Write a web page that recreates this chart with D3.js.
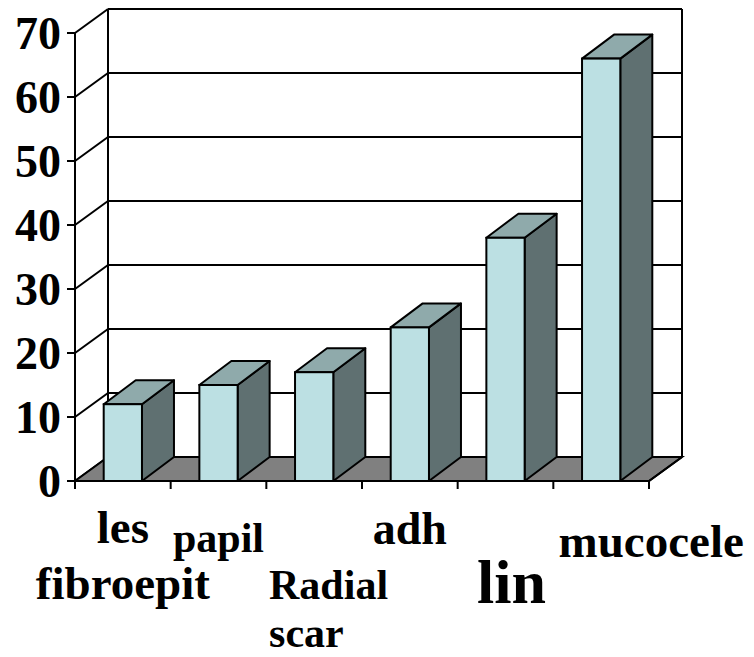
<!DOCTYPE html>
<html>
<head>
<meta charset="utf-8">
<script src="https://cdn.jsdelivr.net/npm/d3@7"></script>
<style>
  html, body { margin: 0; padding: 0; background: #fff; }
  svg { display: block; }
  text { font-family: "Liberation Serif", "Times New Roman", serif; font-weight: bold; fill: #000; }
</style>
</head>
<body>
<script>
// Lesion categories and counts
const categories = ["les fibroepit", "papil", "Radial scar", "adh", "lin", "mucocele"];
const values = [12, 15, 17, 24, 38, 66];
const yTicks = [0, 10, 20, 30, 40, 50, 60, 70];

// Category label lines, each line with its own size and placement offset
const labelLines = [
  [{ t: "les", size: 47, dx: 0, y: 543, anchor: "middle" },
   { t: "fibroepit", size: 47, dx: 0, y: 599, anchor: "middle" }],
  [{ t: "papil", size: 42, dx: 0, y: 552, anchor: "middle" }],
  [{ t: "Radial", size: 42, dx: -26, y: 599, anchor: "start" },
   { t: "scar", size: 42, dx: -26, y: 647, anchor: "start" }],
  [{ t: "adh", size: 46, dx: 0, y: 544, anchor: "middle" }],
  [{ t: "lin", size: 62, dx: 6, y: 603, anchor: "middle" }],
  [{ t: "mucocele", size: 47, dx: 50, y: 557, anchor: "middle" }]
];

(function () {
const W = 754, H = 657;
const plotLeft = 75, plotRight = 649, plotBottom = 481, plotTop = 33;
const depth = { dx: 33, dy: -24 };     // wall / floor depth
const barDepth = { dx: 32, dy: -24 };  // column depth

const svg = d3.select("body").append("svg").attr("width", W).attr("height", H);

const y = d3.scaleLinear().domain([0, 70]).range([plotBottom, plotTop]);
const x = d3.scaleBand().domain(categories).range([plotLeft, plotRight])
  .paddingInner(0.6).paddingOuter(0.3);
const step = x.step();

const lineStyle = sel => sel.attr("stroke", "#000").attr("stroke-width", 2).attr("fill", "none");

// Back wall gridlines and side diagonals
const grid = svg.append("g");
yTicks.filter(d => d > 0).forEach(d => {
  grid.append("line")
    .attr("x1", plotLeft + depth.dx).attr("x2", plotRight + depth.dx)
    .attr("y1", y(d) + depth.dy).attr("y2", y(d) + depth.dy)
    .call(lineStyle);
});
yTicks.forEach(d => {
  grid.append("line")
    .attr("x1", plotLeft).attr("y1", y(d))
    .attr("x2", plotLeft + depth.dx).attr("y2", y(d) + depth.dy)
    .call(lineStyle);
});
// back wall verticals
[plotLeft + depth.dx, plotRight + depth.dx].forEach(px => {
  grid.append("line")
    .attr("x1", px).attr("x2", px)
    .attr("y1", y(70) + depth.dy).attr("y2", y(0) + depth.dy)
    .call(lineStyle);
});

// Floor
svg.append("path")
  .attr("d", d3.line()([
    [plotLeft, y(0)], [plotRight, y(0)],
    [plotRight + depth.dx, y(0) + depth.dy], [plotLeft + depth.dx, y(0) + depth.dy]
  ]) + "Z")
  .attr("fill", "#808080").attr("stroke", "#000").attr("stroke-width", 2);

// Value axis
svg.append("line")
  .attr("x1", plotLeft).attr("x2", plotLeft).attr("y1", y(0)).attr("y2", y(70))
  .call(lineStyle);
const yAxis = svg.append("g");
yTicks.forEach(d => {
  yAxis.append("line")
    .attr("x1", plotLeft - 8).attr("x2", plotLeft).attr("y1", y(d)).attr("y2", y(d))
    .call(lineStyle);
  yAxis.append("text")
    .attr("x", plotLeft - 14).attr("y", y(d) + 16)
    .attr("text-anchor", "end")
    .style("font-size", "46px")
    .text(d);
});

// Category axis ticks
const xTickPos = d3.range(categories.length + 1).map(i => plotLeft + i * step);
xTickPos.forEach(px => {
  svg.append("line")
    .attr("x1", px).attr("x2", px).attr("y1", y(0)).attr("y2", y(0) + 8)
    .call(lineStyle);
});

// 3D columns
const bars = svg.append("g").selectAll("g")
  .data(categories.map((c, i) => ({ c, v: values[i] })))
  .join("g");

bars.each(function (d) {
  const g = d3.select(this);
  const x0 = x(d.c), x1 = x(d.c) + x.bandwidth();
  const yt = y(d.v), yb = y(0);
  const { dx, dy } = barDepth;
  // side face
  g.append("path")
    .attr("d", d3.line()([[x1, yb], [x1 + dx, yb + dy], [x1 + dx, yt + dy], [x1, yt]]) + "Z")
    .attr("fill", "#5F7071").attr("stroke", "#000").attr("stroke-width", 2)
    .attr("stroke-linejoin", "round");
  // top face
  g.append("path")
    .attr("d", d3.line()([[x0, yt], [x1, yt], [x1 + dx, yt + dy], [x0 + dx, yt + dy]]) + "Z")
    .attr("fill", "#8FAAAB").attr("stroke", "#000").attr("stroke-width", 2)
    .attr("stroke-linejoin", "round");
  // front face
  g.append("rect")
    .attr("x", x0).attr("y", yt).attr("width", x1 - x0).attr("height", yb - yt)
    .attr("fill", "#BCE0E3").attr("stroke", "#000").attr("stroke-width", 2);
});

// Front axis baseline
svg.append("line")
  .attr("x1", plotLeft).attr("x2", plotRight).attr("y1", y(0)).attr("y2", y(0))
  .call(lineStyle);
svg.append("line")
  .attr("x1", plotRight).attr("y1", y(0))
  .attr("x2", plotRight + depth.dx).attr("y2", y(0) + depth.dy)
  .call(lineStyle);

// Category labels
const labels = svg.append("g");
categories.forEach((c, i) => {
  const cx = x(c) + x.bandwidth() / 2;
  labelLines[i].forEach(l => {
    labels.append("text")
      .attr("x", l.anchor === "start" ? x(c) + l.dx : cx + l.dx)
      .attr("y", l.y)
      .attr("text-anchor", l.anchor)
      .style("font-size", l.size + "px")
      .text(l.t);
  });
});
})();
</script>
</body>
</html>
